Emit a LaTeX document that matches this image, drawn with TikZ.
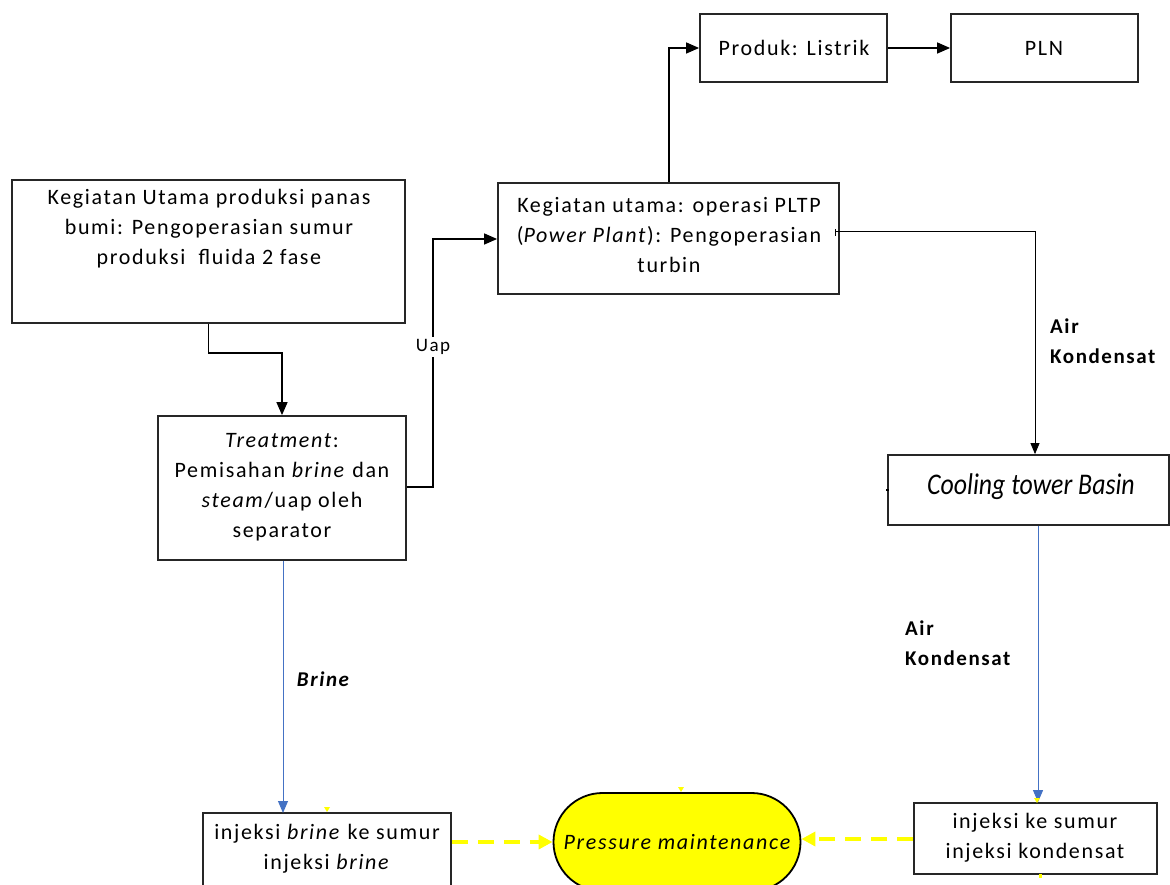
\documentclass[tikz,border=0pt]{standalone}
\usepackage{fontspec}
\setmainfont{Carlito}[LetterSpace=7.5]
\newfontfamily\condfont[FakeStretch=0.86]{Carlito}
\usetikzlibrary{arrows.meta,shapes.misc}
\definecolor{lnblue}{HTML}{4472C4}
\definecolor{yel}{HTML}{FFFF00}
\begin{document}
\begin{tikzpicture}[x=1pt,y=-1pt,
  box/.style={draw=black!85,line width=1.8pt,inner sep=0pt},
  txt/.style={align=center,inner sep=0pt,font=\fontsize{22}{30}\selectfont},
  lab/.style={align=left,inner sep=0pt,font=\fontsize{21}{30}\selectfont\bfseries},
  blk/.style={line width=1.4pt,-{Triangle[length=13pt,width=11pt]}},
  thin/.style={line width=0.8pt,-{Triangle[length=11pt,width=9pt]}},
  blu/.style={lnblue,line width=1pt,-{Triangle[length=12pt,width=10pt]}},
  yd/.style={yel,line width=4pt,dash pattern=on 16pt off 10pt,-{Triangle[length=14pt,width=14pt]}},
  ymark/.style={fill=yel,draw=none}]
\useasboundingbox (0,0) rectangle (1170,885);
\begin{scope}
\clip (0,0) rectangle (1170,885);
% boxes
\node[box,minimum width=393pt,minimum height=143pt] (A) at (208.5,251.5) {};
\node[box,minimum width=248pt,minimum height=144pt] (B) at (282,488) {};
\node[box,minimum width=341pt,minimum height=111pt] (C) at (668.5,238.5) {};
\node[box,minimum width=187pt,minimum height=68pt] (D) at (793.5,48) {};
\node[box,minimum width=187pt,minimum height=68pt] (E) at (1044.5,48) {};
\node[box,minimum width=281pt,minimum height=70pt] (F) at (1028.5,490) {};
\node[box,minimum width=248pt,minimum height=100pt] (G) at (327,863) {};
\node[box,minimum width=243pt,minimum height=71pt] (H) at (1035.5,838.5) {};
\node[draw=black,line width=1.8pt,fill=yel,rounded rectangle,minimum width=247pt,minimum height=98pt,inner sep=0pt] (P) at (677,842) {};
\end{scope}
% texts
\node[txt] (tA) at (209,229) {Kegiatan Utama produksi panas\\bumi: Pengoperasian sumur\\produksi\ \ fluida 2 fase};
\node[txt] (tB) at (282,487) {\textit{Treatment}:\\Pemisahan \textit{brine} dan\\\textit{steam}/uap oleh\\separator};
\node[txt] (tC) at (669,235) {Kegiatan utama: operasi PLTP\\(\textit{Power Plant}): Pengoperasian\\turbin};
\node[txt] (tD) at (794,48) {Produk: Listrik};
\node[txt] (tE) at (1044,48) {PLN};
\node[inner sep=0pt,font=\fontsize{30}{30}\condfont\itshape] (tF) at (1031,487) {Cooling tower Basin};
\node[txt] (tG) at (327,849) {injeksi \textit{brine} ke sumur\\injeksi \textit{brine}};
\node[txt] (tH) at (1035,838) {injeksi ke sumur\\injeksi kondensat};
\node[txt,font=\fontsize{22}{30}\selectfont\itshape] (tP) at (677,842) {Pressure maintenance};
% connectors
\draw[blk] (A.south) -- ++(0,29) -| (B.north);
\draw[blk] (B.east |- 0,487) -| (433,239) coordinate (u) -- (C.west |- u);
\node[fill=white,inner sep=2pt,font=\fontsize{19}{20}\selectfont] (uap) at (433,347) {Uap};
\draw[blk] (C.north -| 669,0) |- (D.west);
\draw[blk] (D.east) -- (E.west);
\draw[line width=0.8pt] (835,229) -- (835,236);
\draw[thin] (835,231) -| (F.north -| 1035,0);
\draw[line width=1.5pt] (886,490) -- (889,490);
\node[lab,anchor=west] (l1) at (1050,341) {Air\\Kondensat};
\draw[blu] (F.south -| 1038,0) -- (H.north -| 1038,0);
\node[lab,anchor=west] (l2) at (905,643) {Air\\Kondensat};
\draw[blu] (B.south -| 283,0) -- (283,813) coordinate (gt);
\node[inner sep=0pt,font=\fontsize{21}{30}\selectfont\bfseries\itshape] (l3) at (323,679) {Brine};
\draw[yd] (G.east |- 0,842) -- (P.west);
\draw[yd] (H.west |- 0,839) -- (P.east |- 0,839);
% small yellow marks
\fill[ymark] (324,807) -- (330,807) -- (327,812) -- cycle;
\fill[ymark] (678,787) -- (684,787) -- (681,792) -- cycle;
\fill[ymark] (1034,798) -- (1040,798) -- (1037,803) -- cycle;
\fill[ymark] (1039,874) rectangle (1042,878);
\end{tikzpicture}
\end{document}
